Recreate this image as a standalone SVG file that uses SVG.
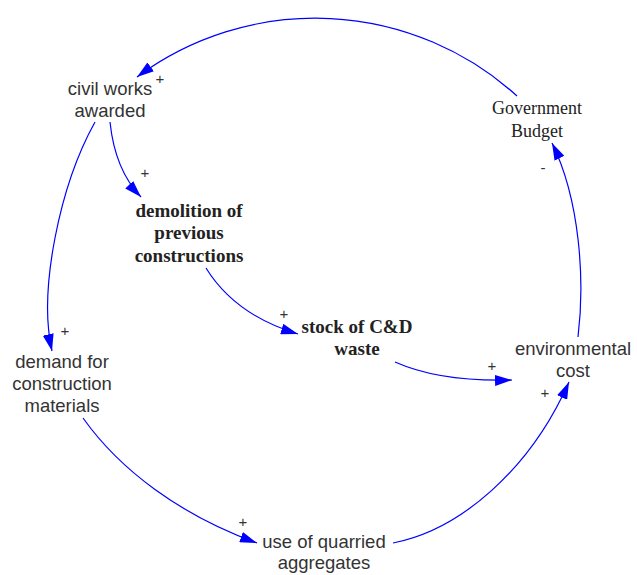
<svg xmlns="http://www.w3.org/2000/svg" width="637" height="575" viewBox="0 0 637 575">
<style>
.sans{font-family:"Liberation Sans",Arial,sans-serif;font-size:18.5px;fill:#333;text-anchor:middle}
.serifb{font-family:"Liberation Serif","Times New Roman",serif;font-size:19px;font-weight:bold;fill:#222;text-anchor:middle}
.serif{font-family:"Liberation Serif","Times New Roman",serif;font-size:18px;fill:#222;text-anchor:middle}
.sign{font-family:"Liberation Sans",Arial,sans-serif;font-size:15px;fill:#333;text-anchor:middle}
.link{fill:none;stroke:#0000ff;stroke-width:1.2;marker-end:url(#arr)}
</style>
<defs>
<marker id="arr" markerUnits="userSpaceOnUse" markerWidth="18" markerHeight="11" refX="17" refY="5.5" orient="auto">
<path d="M0,0 L17,5.5 L0,11 z" fill="#0000ff"/>
</marker>
</defs>
<rect width="637" height="575" fill="#fff"/>
<g id="connectors">
<path class="link" d="M517,96 A300,300 0 0 0 137,77"/>
<path class="link" d="M110,122 Q115,170 141,197"/>
<path class="link" d="M95,122 C60,185 38,290 52,351"/>
<path class="link" d="M206,268 Q235,315 298,334"/>
<path class="link" d="M395,362 Q440,382 512,380"/>
<path class="link" d="M83,418 C120,470 180,515 257,543"/>
<path class="link" d="M393,543 C460,530 530,470 569,382"/>
<path class="link" d="M578,337 C585,280 580,200 552,143"/>
<text class="sign" x="160" y="84">+</text>
<text class="sign" x="145" y="178">+</text>
<text class="sign" x="65" y="336">+</text>
<text class="sign" x="284" y="319">+</text>
<text class="sign" x="492" y="371">+</text>
<text class="sign" x="243" y="527">+</text>
<text class="sign" x="545" y="398">+</text>
<text class="sign" x="543" y="173">-</text>
</g>
<g id="civil-works-awarded">
<text class="sans" x="110" y="95">civil works</text>
<text class="sans" x="110" y="117">awarded</text>
</g>
<g id="demolition">
<text class="serifb" x="189" y="217">demolition of</text>
<text class="serifb" x="189" y="239">previous</text>
<text class="serifb" x="189" y="262">constructions</text>
</g>
<g id="stock">
<text class="serifb" x="357" y="333">stock of C&amp;D</text>
<text class="serifb" x="357" y="355">waste</text>
</g>
<g id="environmental-cost">
<text class="sans" x="573" y="355">environmental</text>
<text class="sans" x="573" y="377">cost</text>
</g>
<g id="government-budget">
<text class="serif" x="537" y="114">Government</text>
<text class="serif" x="537" y="137">Budget</text>
</g>
<g id="demand">
<text class="sans" x="62" y="368">demand for</text>
<text class="sans" x="62" y="390">construction</text>
<text class="sans" x="62" y="412">materials</text>
</g>
<g id="use-of-quarried-aggregates">
<text class="sans" x="324" y="548">use of quarried</text>
<text class="sans" x="324" y="569">aggregates</text>
</g>
</svg>
